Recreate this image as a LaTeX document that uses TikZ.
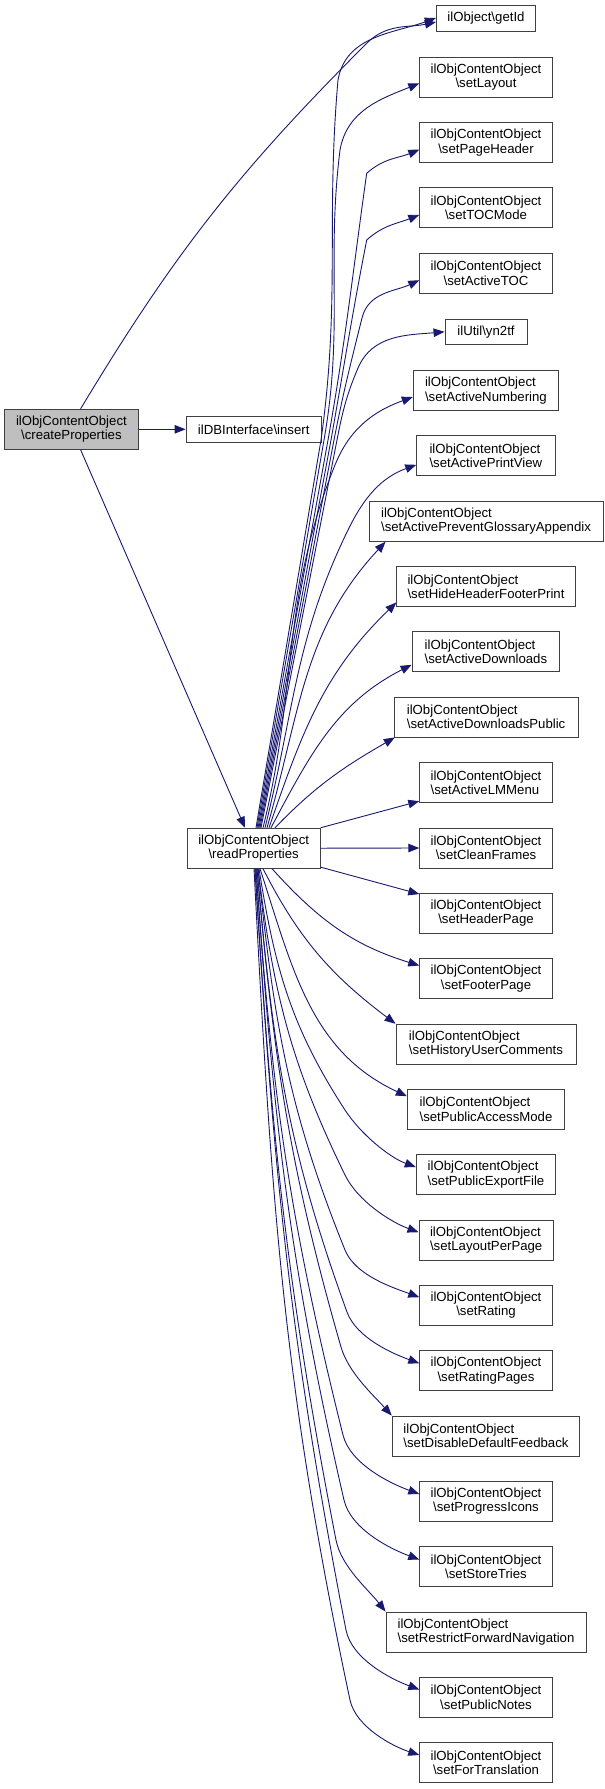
\documentclass[tikz,border=0pt]{standalone}
\usepackage{fontspec}
\setmainfont{Liberation Sans}
\usetikzlibrary{arrows.meta}
\definecolor{edgeblue}{HTML}{191970}
\definecolor{boxline}{HTML}{404040}
\definecolor{boxfill}{HTML}{BFBFBF}
\newcommand{\BSx}{\textbackslash}
\begin{document}
\begin{tikzpicture}[x=1pt,y=1pt,
  box/.style={draw=boxline, line width=0.9pt, fill=white, inner sep=0pt,
    minimum width=132.5pt, minimum height=40pt,
    font=\fontsize{13.2}{14.5}\selectfont, align=center},
  lbox/.style={box, align=left},
  sbox/.style={box, minimum height=25.6pt},
  edge/.style={draw=edgeblue, line width=0.9pt,
    -{Triangle[length=11pt,width=8.5pt]}}]
\fill[white] (0,0) rectangle (605,-1789);
\useasboundingbox (0,0) rectangle (605,-1789);

% ---- nodes ----
\node[box, fill=boxfill, minimum width=133.3pt] (cp) at (71.4,-429.3) {ilObjContentObject\\\BSx createProperties};
\node[sbox, minimum width=135.3pt] (ins) at (253.7,-429.3) {ilDBInterface\BSx insert};
\node[box, minimum width=133pt] (rp) at (253.7,-848.2) {ilObjContentObject\\\BSx readProperties};
\node[sbox, minimum width=99.3pt] (gid) at (486,-18.5) {ilObject\BSx getId};
\node[box] (sl) at (486,-77.3) {ilObjContentObject\\\BSx setLayout};
\node[box] (sph) at (486,-142.7) {ilObjContentObject\\\BSx setPageHeader};
\node[box] (stm) at (486,-207.8) {ilObjContentObject\\\BSx setTOCMode};
\node[box] (sat) at (486,-273.2) {ilObjContentObject\\\BSx setActiveTOC};
\node[sbox, minimum width=82pt] (yn) at (486,-331.8) {ilUtil\BSx yn2tf};
\node[lbox, minimum width=145.3pt] (san) at (485.9,-390.5) {ilObjContentObject\\\BSx setActiveNumbering};
\node[lbox, minimum width=138.3pt] (sapv) at (485.9,-455.8) {ilObjContentObject\\\BSx setActivePrintView};
\node[lbox, minimum width=234pt] (sapg) at (486,-521.3) {ilObjContentObject\\\BSx setActivePreventGlossaryAppendix};
\node[lbox, minimum width=178.3pt] (shh) at (486,-586.7) {ilObjContentObject\\\BSx setHideHeaderFooterPrint};
\node[lbox, minimum width=147.7pt] (sad) at (485.9,-651.8) {ilObjContentObject\\\BSx setActiveDownloads};
\node[lbox, minimum width=183.7pt] (sadp) at (486.1,-717) {ilObjContentObject\\\BSx setActiveDownloadsPublic};
\node[lbox] (slm) at (486,-782.7) {ilObjContentObject\\\BSx setActiveLMMenu};
\node[box] (scf) at (486,-848) {ilObjContentObject\\\BSx setCleanFrames};
\node[box] (shp) at (486,-913.2) {ilObjContentObject\\\BSx setHeaderPage};
\node[box] (sfp) at (486,-978.8) {ilObjContentObject\\\BSx setFooterPage};
\node[lbox, minimum width=180pt] (shuc) at (486,-1044.2) {ilObjContentObject\\\BSx setHistoryUserComments};
\node[lbox, minimum width=157.3pt] (spam) at (486,-1109.2) {ilObjContentObject\\\BSx setPublicAccessMode};
\node[lbox, minimum width=139.5pt] (spef) at (486,-1174.8) {ilObjContentObject\\\BSx setPublicExportFile};
\node[lbox, minimum width=134.5pt] (slpp) at (486.2,-1240.2) {ilObjContentObject\\\BSx setLayoutPerPage};
\node[box] (sr) at (486,-1305.2) {ilObjContentObject\\\BSx setRating};
\node[box] (srp) at (486,-1370.8) {ilObjContentObject\\\BSx setRatingPages};
\node[lbox, minimum width=187.6pt] (sddf) at (486,-1436) {ilObjContentObject\\\BSx setDisableDefaultFeedback};
\node[box] (spi) at (486,-1501.3) {ilObjContentObject\\\BSx setProgressIcons};
\node[box] (sst) at (486,-1566.7) {ilObjContentObject\\\BSx setStoreTries};
\node[lbox, minimum width=200pt] (srfn) at (486,-1632) {ilObjContentObject\\\BSx setRestrictForwardNavigation};
\node[box] (spn) at (486,-1697.3) {ilObjContentObject\\\BSx setPublicNotes};
\node[box] (sft) at (486,-1762.7) {ilObjContentObject\\\BSx setForTranslation};

% ---- edges from createProperties ----
\draw[edge] (cp.east) -- (ins.west);
\draw[edge] ([xshift=9.2pt]cp.south) -- ([xshift=-8.7pt]rp.north);
\draw[edge] ([xshift=9.2pt]cp.north) to[out=59,in=-135] (366.7,-43.3) to[out=45,in=-168] ([yshift=-3.5pt]gid.west);

% ---- edges from readProperties, upward ----
\draw[edge] ([xshift=2.3pt]rp.north) -- (321,-440) to[out=82,in=-95] (338,-80) to[out=80,in=-160] ([yshift=0.5pt]gid.west);
\draw[edge] ([xshift=3.3pt]rp.north) -- (324,-440) to[out=80,in=-97] (340,-150) to[out=80,in=-158] ([yshift=-6pt]sl.west);
\draw[edge] ([xshift=4.3pt]rp.north) -- (328,-440) to[out=80,in=-98] (366.7,-173.3) to[out=42,in=-158] ([yshift=-7pt]sph.west);
\draw[edge] ([xshift=5.3pt]rp.north) -- (331,-440) to[out=80,in=-101] (366.7,-240) to[out=42,in=-158] ([yshift=-7pt]stm.west);
\draw[edge] ([xshift=6.3pt]rp.north) -- (334,-440) to[out=79,in=-104] (362,-318) to[out=76,in=-155] ([yshift=-7pt]sat.west);
\draw[edge] ([xshift=7.3pt]rp.north) -- (337,-440) to[out=79,in=-113] (358,-368) to[out=67,in=-175] (yn.west);
\draw[edge] ([xshift=9.3pt]rp.north) to[out=76,in=-112] (335,-465) to[out=68,in=-160] ([yshift=-6.5pt]san.west);
\draw[edge] ([xshift=11.3pt]rp.north) to[out=76,in=-116] (348,-530) to[out=64,in=-160] ([yshift=-9pt]sapv.west);
\draw[edge] ([xshift=13.3pt]rp.north) to[out=74,in=-133] ([xshift=17pt]sapg.south west);
\draw[edge] ([xshift=15.3pt]rp.north) to[out=71,in=-136] ([yshift=4.7pt]shh.south west);
\draw[edge] ([xshift=17.3pt]rp.north) to[out=62,in=-153] ([yshift=-13pt]sad.west);
\draw[edge] ([xshift=21.3pt]rp.north) to[out=46,in=-150] ([xshift=1pt]sadp.south west);
\draw[edge] (rp.north east) -- ([yshift=2pt]slm.south west);
\draw[edge] (rp.east) -- (scf.west);
\draw[edge] ([yshift=1.5pt]rp.south east) -- ([yshift=-1.3pt]shp.north west);

% ---- edges from readProperties, downward ----
\draw[edge] ([xshift=18.3pt]rp.south) to[out=-48,in=163] ([yshift=13.3pt]sfp.west);
\draw[edge] ([xshift=9.3pt]rp.south) to[out=-63,in=143] (shuc.north west);
\draw[edge] ([xshift=6.3pt]rp.south) to[out=-72,in=155] ([yshift=13pt]spam.west);
\draw[edge] ([xshift=5.3pt]rp.south) to[out=-81,in=123] (345,-1110) to[out=-57,in=160,looseness=.8] ([yshift=7.8pt]spef.west);
\draw[edge] ([xshift=4.3pt]rp.south) to[out=-83,in=116] (345,-1175) to[out=-64,in=160,looseness=.8] ([yshift=8pt]slpp.west);
\draw[edge] ([xshift=4.3pt]rp.south) to[out=-84,in=112] (345,-1250) to[out=-68,in=160,looseness=.8] ([yshift=8pt]sr.west);
\draw[edge] ([xshift=3.3pt]rp.south) to[out=-85,in=110] (347,-1312) to[out=-70,in=160,looseness=.8] ([yshift=7.5pt]srp.west);
\draw[edge] ([xshift=3.3pt]rp.south) to[out=-85,in=106] (341,-1347) to[out=-74,in=132,looseness=.8] (sddf.north west);
\draw[edge] ([xshift=2.3pt]rp.south) to[out=-86,in=104] (343,-1435) to[out=-76,in=160,looseness=.8] ([yshift=7.3pt]spi.west);
\draw[edge] ([xshift=2.3pt]rp.south) to[out=-86,in=103] (344,-1500) to[out=-77,in=160,looseness=.8] ([yshift=7.2pt]sst.west);
\draw[edge] ([xshift=1.3pt]rp.south) to[out=-86.5,in=101] (336,-1540) to[out=-79,in=128,looseness=.8] (srfn.north west);
\draw[edge] ([xshift=1.3pt]rp.south) to[out=-86.5,in=101] (346,-1630) to[out=-79,in=160,looseness=.8] ([yshift=7.8pt]spn.west);
\draw[edge] ([xshift=0.3pt]rp.south) to[out=-87,in=102] (350,-1700) to[out=-78,in=162,looseness=.8] ([yshift=7.7pt]sft.west);
\end{tikzpicture}
\end{document}
